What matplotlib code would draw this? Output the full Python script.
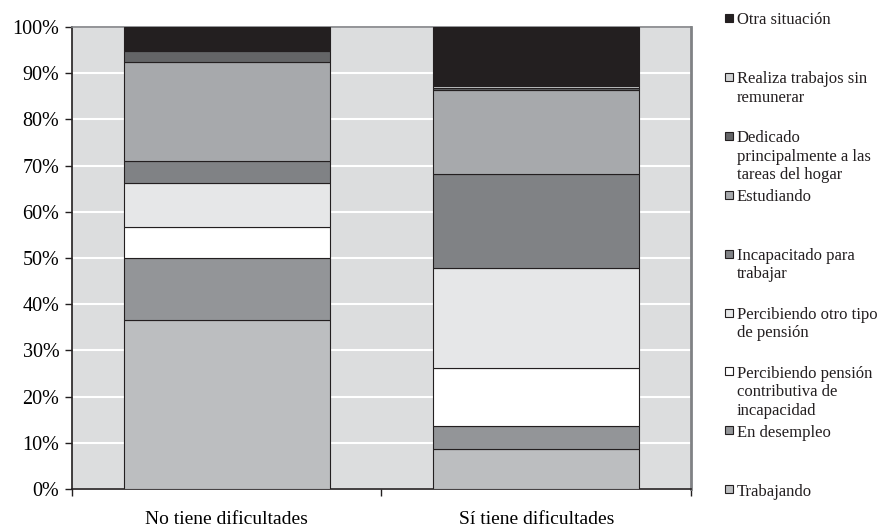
import numpy as np
import matplotlib.pyplot as plt
from matplotlib.patches import Rectangle

plt.rcParams['font.family'] = ['Liberation Serif', 'DejaVu Serif']

# Data (percent of each group, bottom to top)
groups = ['No tiene dificultades', 'Sí tiene dificultades']
series = ['Trabajando', 'En desempleo',
          'Percibiendo pensión\ncontributiva de\nincapacidad',
          'Percibiendo otro tipo\nde pensión',
          'Incapacitado para\ntrabajar', 'Estudiando',
          'Dedicado\nprincipalmente a las\ntareas del hogar',
          'Realiza trabajos sin\nremunerar', 'Otra situación']
values = {
    'Trabajando':     [36.5, 8.6],
    'En desempleo':   [13.5, 5.0],
    'Contributiva':   [6.8, 12.7],
    'Otro tipo':      [9.4, 21.5],
    'Incapacitado':   [4.9, 20.4],
    'Estudiando':     [21.3, 18.2],
    'Dedicado':       [2.4, 0.5],
    'Realiza':        [0.2, 0.3],
    'Otra':           [5.0, 12.8],
}
colors = ['#BCBEC0', '#939598', '#FFFFFF', '#E6E7E8', '#808285',
          '#A7A9AC', '#646567', '#D1D3D4', '#231F20']

fig = plt.figure(figsize=(8.8, 5.29), dpi=100)
ax = fig.add_axes([0.0818, 0.0756, 0.7034, 0.8733])
ax.set_facecolor('#DCDDDE')

x = np.arange(len(groups))
bottom = np.zeros(len(groups))
for (key, vals), col in zip(values.items(), colors):
    vals = np.array(vals)
    ax.bar(x, vals, width=0.667, bottom=bottom, color=col,
           edgecolor='#231F20', linewidth=0.8, zorder=3)
    bottom += vals

ax.set_xlim(-0.5, 1.5)
ax.set_ylim(0, 100)
ax.set_yticks(np.arange(0, 101, 10))
ax.set_yticklabels([f'{v}%' for v in range(0, 101, 10)], fontsize=14.5)
ax.yaxis.grid(True, color='white', linewidth=1.5, zorder=1)
ax.set_axisbelow(True)

ax.set_xticks(x)
ax.set_xticklabels(groups, fontsize=14)
ax.tick_params(axis='x', length=0, pad=16)
ax.set_xticks([-0.5, 0.5, 1.5], minor=True)
ax.tick_params(axis='x', which='minor', length=5, width=1, color='#231F20')
ax.tick_params(axis='y', length=5, width=1, color='#231F20', pad=4)

for s in ['left', 'bottom']:
    ax.spines[s].set_color('#231F20')
    ax.spines[s].set_linewidth(1.2)
ax.spines['top'].set_color('#808285')
ax.spines['top'].set_linewidth(1.2)
ax.spines['right'].set_color('#808285')
ax.spines['right'].set_linewidth(2)

# Legend drawn manually (top entry = top of stack)
W, H = 880, 529
leg_labels = series[::-1]
leg_colors = colors[::-1]
for i, (lab, col) in enumerate(zip(leg_labels, leg_colors)):
    yc = 18 + i * 58.9
    fig.add_artist(Rectangle(((725) / W, (H - yc - 4) / H), 8 / W, 8 / H,
                             facecolor=col, edgecolor='#231F20',
                             linewidth=0.8, transform=fig.transFigure))
    fig.text(737 / W, (H - yc + 5.5) / H, lab, fontsize=12, va='top',
             ha='left', linespacing=1.2, color='#231F20')

fig.savefig('out.png', dpi=100)
